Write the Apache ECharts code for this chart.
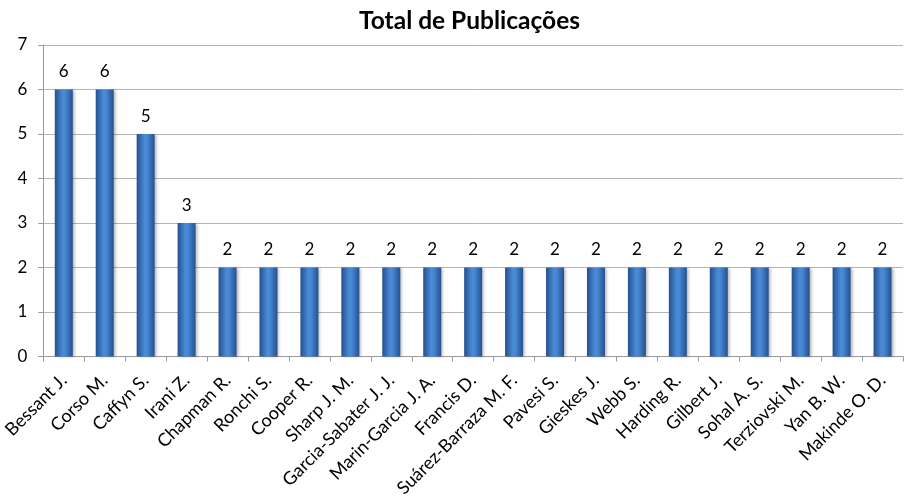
<!DOCTYPE html>
<html><head><meta charset="utf-8">
<script src="https://cdn.jsdelivr.net/npm/echarts@6/dist/echarts.min.js"></script>
<style>html,body{margin:0;padding:0;background:#fff}#c{width:904px;height:500px}</style>
</head><body><div id="c"></div>
<script>
const categories = ["Bessant J.","Corso M.","Caffyn S.","Irani Z.","Chapman R.","Ronchi S.","Cooper R.","Sharp J. M.","Garcia-Sabater J. J.","Marin-Garcia J. A.","Francis D.","Suárez-Barraza M. F.","Pavesi S.","Gieskes J.","Webb S.","Harding R.","Gilbert J.","Sohal A. S.","Terziovski M.","Yan B. W.","Makinde O. D."];
const values = [6,6,5,3,2,2,2,2,2,2,2,2,2,2,2,2,2,2,2,2,2];
const yTicks = [0,1,2,3,4,5,6,7];
const titleText = "Total de Publicações";

const chart = echarts.init(document.getElementById('c'));
const font = "Lato, 'Open Sans', sans-serif";
const barColor = new echarts.graphic.LinearGradient(0,0,1,0,[
  {offset:0,color:'#24508f'},
  {offset:0.45,color:'#4b8cd8'},
  {offset:0.6,color:'#4585d1'},
  {offset:1,color:'#25508f'}
]);
chart.setOption({
  animation:false,
  title:{text:titleText,left:354,top:4,textStyle:{fontFamily:font,fontWeight:'bold',fontSize:24.5,color:'#000'}},
  grid:{left:43,right:1,top:45,bottom:143,containLabel:false},
  xAxis:{type:'category',data:categories,
    axisLine:{lineStyle:{color:'#9a9a9a'}},
    axisTick:{show:true,alignWithLabel:false,lineStyle:{color:'#9a9a9a'},length:5},
    axisLabel:{rotate:45,interval:0,fontFamily:font,fontSize:18,color:'#000',margin:21}},
  yAxis:{type:'value',min:yTicks[0],max:yTicks[yTicks.length-1],interval:1,
    axisLine:{show:true,lineStyle:{color:'#9a9a9a'}},
    axisTick:{show:true,length:5,lineStyle:{color:'#9a9a9a'}},
    splitLine:{lineStyle:{color:'#b5b5b5'}},
    axisLabel:{fontFamily:font,fontSize:17,color:'#000',margin:16}},
  series:[{type:'bar',data:values,barWidth:18,
    itemStyle:{color:barColor,shadowColor:'rgba(0,0,0,0.3)',shadowBlur:3,shadowOffsetX:2,shadowOffsetY:1},
    label:{show:true,position:'top',distance:9,fontFamily:font,fontSize:17,color:'#000'}}]
});
</script>
</body></html>
